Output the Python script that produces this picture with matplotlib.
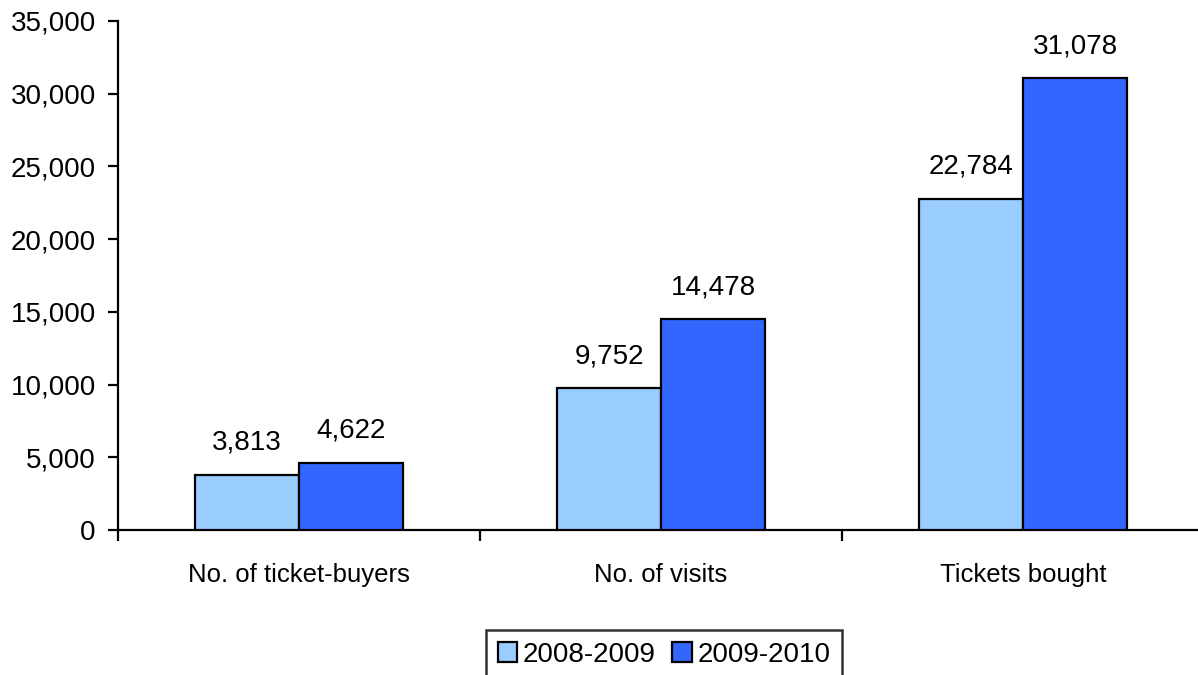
import matplotlib
matplotlib.use("Agg")
import matplotlib.pyplot as plt
import numpy as np
from matplotlib.ticker import FuncFormatter

categories = ["No. of ticket-buyers", "No. of visits", "Tickets bought"]
series_names = ["2008-2009", "2009-2010"]
values_0809 = [3813, 9752, 22784]
values_0910 = [4622, 14478, 31078]
colors = ["#99CCFF", "#3366FF"]

plt.rcParams["font.family"] = ["Liberation Sans", "DejaVu Sans"]

W, H = 1198, 675
fig = plt.figure(figsize=(W / 100, H / 100), dpi=100)
ax = fig.add_axes([118 / W, 145 / H, (1204 - 118) / W, (530 - 21) / H])

x = np.arange(len(categories))
bw = 104 / 362
fs = 20

bars = []
for i, (vals, name, c) in enumerate(zip([values_0809, values_0910], series_names, colors)):
    b = ax.bar(x + (i - 0.5) * bw, vals, width=bw, color=c, edgecolor="black",
               linewidth=1.6, label=name, zorder=3)
    bars.append(b)
    for rect, v in zip(b, vals):
        ax.annotate(f"{v:,}", (rect.get_x() + rect.get_width() / 2, v),
                    xytext=(0, 23), textcoords="offset points",
                    ha="center", va="center", fontsize=fs)

ax.set_xlim(-0.5, len(categories) - 0.5)
ax.set_ylim(0, 35000)
ax.set_yticks(np.arange(0, 35001, 5000))
ax.yaxis.set_major_formatter(FuncFormatter(lambda v, p: f"{int(v):,}"))
ax.set_xticks(np.arange(-0.5, len(categories), 1.0))
ax.set_xticklabels([])
for xi, cat in zip(x, categories):
    ax.text(xi, -3100, cat, ha="center", va="center", fontsize=18.5)

for s in ["top", "right"]:
    ax.spines[s].set_visible(False)
for s in ["left", "bottom"]:
    ax.spines[s].set_linewidth(1.6)
ax.tick_params(axis="y", direction="out", length=7, width=1.6, labelsize=fs, pad=9)
ax.tick_params(axis="x", direction="out", length=8, width=1.6)

leg = fig.legend(handles=[bars[0], bars[1]], labels=series_names, loc="upper center",
                 bbox_to_anchor=(664 / W, (H - 630) / H), ncol=2, fontsize=fs,
                 frameon=True, fancybox=False, handlelength=0.7, handleheight=0.7,
                 handletextpad=0.2, columnspacing=0.6, borderpad=0.42, borderaxespad=0)
leg.get_frame().set_edgecolor("black")
leg.get_frame().set_linewidth(1.8)

fig.savefig("out.png", dpi=100)
